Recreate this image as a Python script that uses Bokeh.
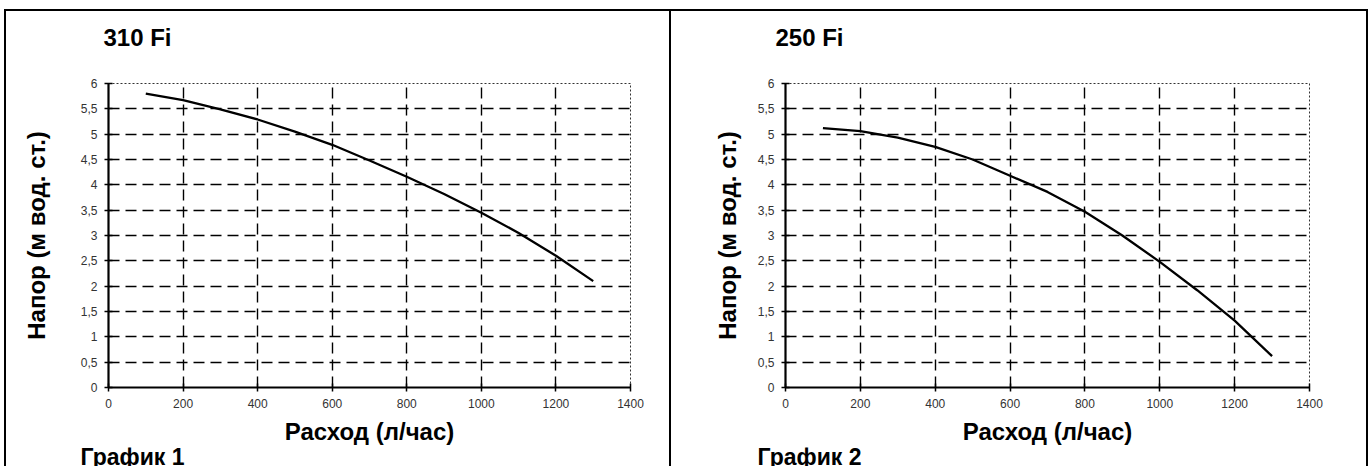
from bokeh.plotting import figure
from bokeh.models import FixedTicker, Range1d, Title
from bokeh.layouts import row
from bokeh.embed import file_html
from bokeh.resources import INLINE

# ---- data ----
flow = [100, 200, 300, 400, 500, 600, 700, 800, 900, 1000, 1100, 1200, 1300]
head_310fi = [5.80, 5.67, 5.49, 5.29, 5.05, 4.79, 4.48, 4.16, 3.82, 3.45, 3.05, 2.60, 2.10]
head_250fi = [5.12, 5.06, 4.93, 4.75, 4.50, 4.18, 3.86, 3.47, 3.00, 2.48, 1.92, 1.32, 0.62]
x_ticks = [0, 200, 400, 600, 800, 1000, 1200, 1400]
y_ticks = [0, 0.5, 1, 1.5, 2, 2.5, 3, 3.5, 4, 4.5, 5, 5.5, 6]
y_tick_labels = ["0", "0,5", "1", "1,5", "2", "2,5", "3", "3,5", "4", "4,5", "5", "5,5", "6"]
titles = ["310 Fi", "250 Fi"]
captions = ["График 1", "График 2"]
x_label = "Расход (л/час)"
y_label = "Напор (м вод. ст.)"

FONT = "Liberation Sans"
H = 457


def make_panel(title, caption, heads, width, b_left, b_right, b_top, b_bottom,
               ylab_standoff, styles, title_dx, spacer_standoff, cap_dx, cap_standoff):
    p = figure(width=width, height=H, x_range=Range1d(0, 1400), y_range=Range1d(0, 6),
               output_backend="svg", toolbar_location=None,
               min_border_left=b_left, min_border_right=b_right,
               min_border_top=b_top, min_border_bottom=b_bottom)
    p.background_fill_color = "white"
    p.border_fill_color = "white"
    p.outline_line_color = "black"
    p.outline_line_dash = "2 2"
    p.outline_line_width = 1
    p.outline_line_alpha = 0.8

    # grid
    p.xgrid.ticker = FixedTicker(ticks=x_ticks[1:-1])
    p.ygrid.ticker = FixedTicker(ticks=y_ticks[1:-1])
    for g in (p.xgrid, p.ygrid):
        g.grid_line_color = "black"
        g.grid_line_dash = "11 6"
        g.grid_line_width = 1.4

    # axes
    p.xaxis.ticker = FixedTicker(ticks=x_ticks)
    p.yaxis.ticker = FixedTicker(ticks=y_ticks)
    p.yaxis.major_label_overrides = dict(zip(y_ticks, y_tick_labels))
    for ax in (p.xaxis, p.yaxis):
        ax.axis_line_width = 2.2
        ax.axis_line_color = "black"
        ax.major_tick_in = 4
        ax.major_tick_out = 4
        ax.major_tick_line_width = 1.5
        ax.minor_tick_line_color = None
        ax.major_label_text_font = FONT
        ax.major_label_text_font_size = "12px"
        ax.major_label_text_color = "#333333"
        ax.axis_label_text_font = FONT
        ax.axis_label_text_font_size = "24px"
        ax.axis_label_text_font_style = "bold"
        ax.axis_label_text_color = "black"
    p.xaxis.axis_label = x_label
    p.yaxis.axis_label = y_label
    p.xaxis.major_label_standoff = 7
    p.yaxis.major_label_standoff = 7
    p.xaxis.axis_label_standoff = 7
    p.yaxis.axis_label_standoff = ylab_standoff

    p.line(flow, heads, line_color="black", line_width=2.3)

    # empty spacer between the frame and the title
    p.add_layout(Title(text=" ", standoff=spacer_standoff, text_font=FONT,
                       text_font_size="24px"), "above")
    p.title = Title(text=title, align="left", offset=title_dx, standoff=0,
                    text_font=FONT, text_font_size="24px", text_font_style="bold",
                    text_color="black")
    # caption below the x axis
    p.add_layout(Title(text=caption, align="left", offset=cap_dx, standoff=cap_standoff,
                       text_font=FONT, text_font_size="23px", text_font_style="bold",
                       text_color="black"), "below")
    p.styles = styles
    return p


p1 = make_panel(titles[0], captions[0], head_310fi, 667, 102, 43, 70, 81, 28,
                {"border-top": "2px solid black", "border-left": "2px solid black",
                 "border-right": "2px solid black", "box-sizing": "border-box"},
                -5, 4, -28, -12)
p1.margin = (9, 0, 0, 4)
p2 = make_panel(titles[1], captions[1], head_250fi, 697, 114, 59, 72, 81, 14,
                {"border-top": "2px solid black", "border-right": "2px solid black",
                 "box-sizing": "border-box"},
                -10, 4, -28, -12)
p2.margin = (9, 0, 0, 0)

layout = row(p1, p2)
open("out.html", "w").write(file_html(layout, INLINE))
